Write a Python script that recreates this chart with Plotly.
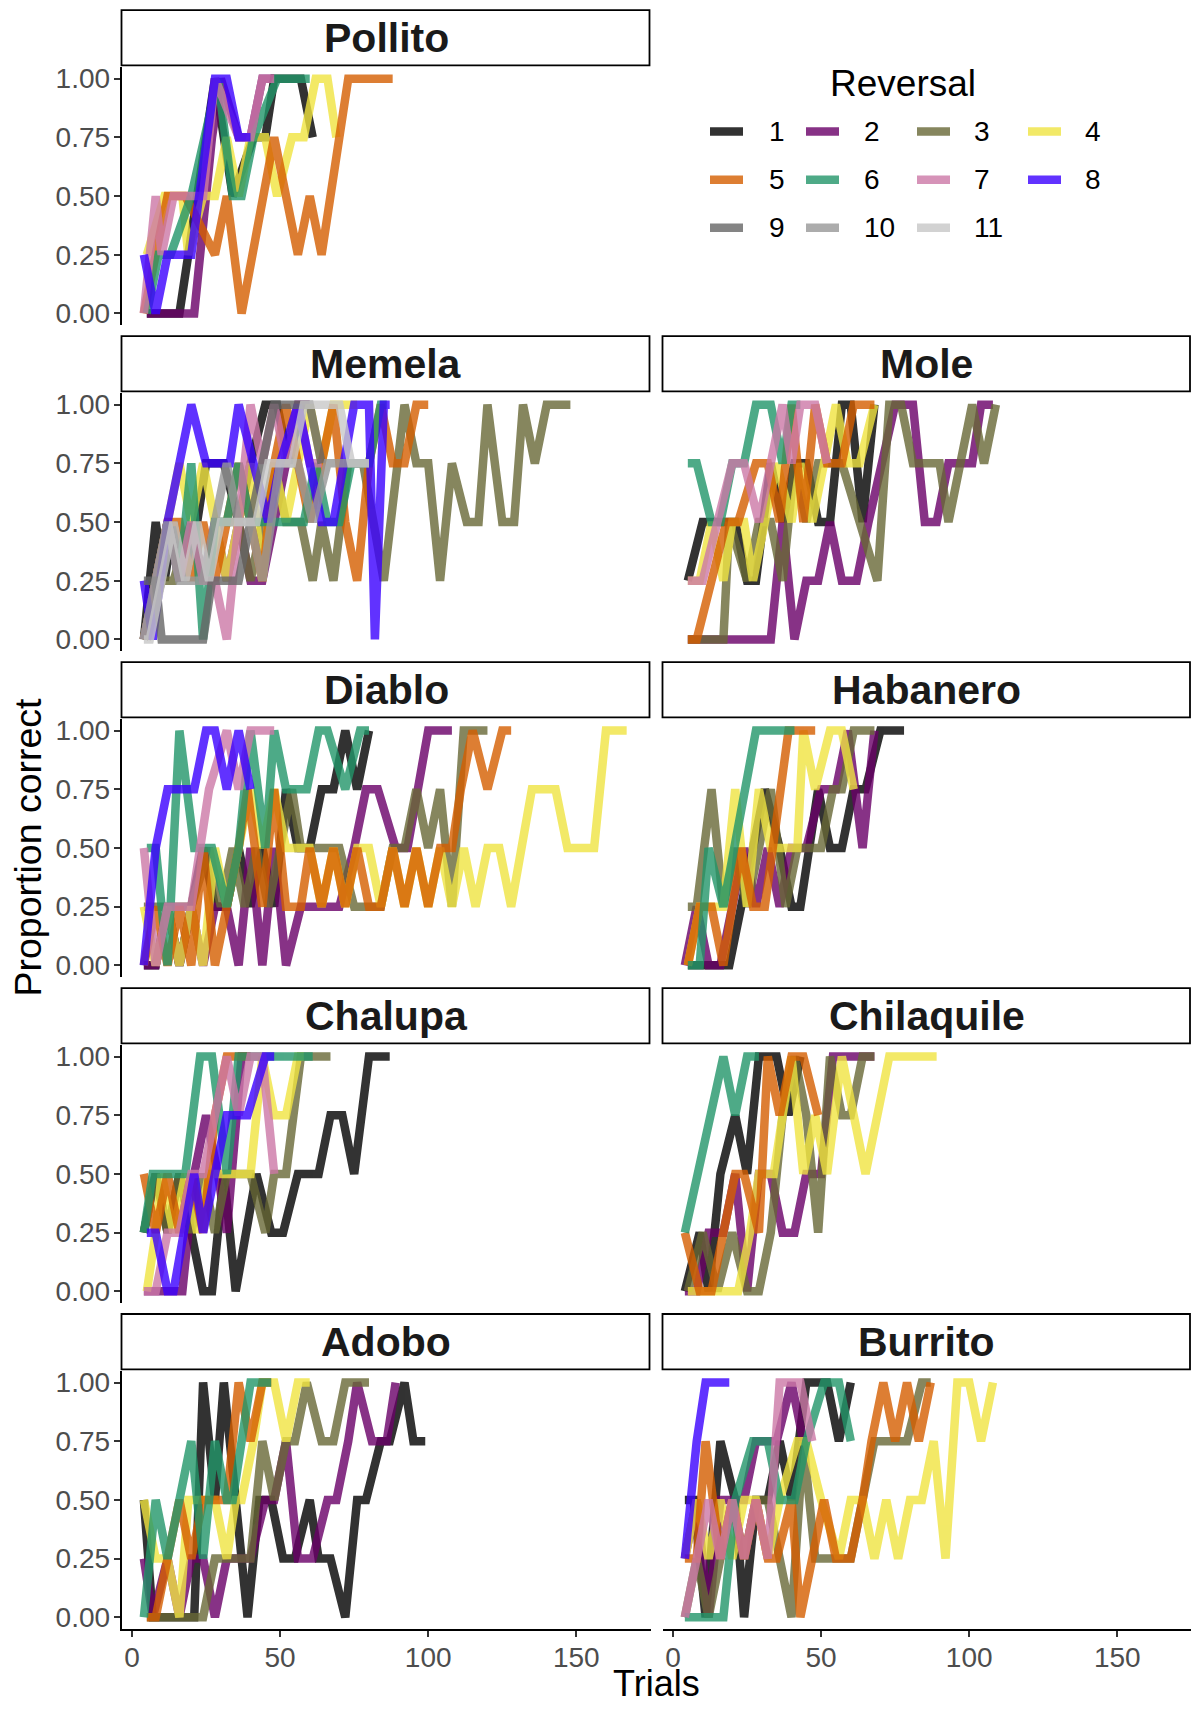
import plotly.graph_objects as go

# ---------------- data: trials (x) and proportion correct (y) per animal / reversal ----------------
pollito_r1_x = [5, 16, 28, 34, 41, 45, 48, 57, 61]
pollito_r1_y = [0, 0, 1, 0.5, 0.75, 0.75, 1, 1, 0.75]
pollito_r2_x = [5, 12, 21, 27, 30, 36, 40, 44, 48]
pollito_r2_y = [0, 0, 0, 0.75, 1, 0.75, 0.75, 1, 1]
pollito_r4_x = [5, 11, 17, 19, 24, 28, 32, 36, 40, 45, 49, 54, 58, 62, 66, 69]
pollito_r4_y = [0.25, 0.5, 0.5, 0.25, 0.5, 0.5, 0.75, 0.5, 0.75, 0.75, 0.5, 0.75, 0.75, 1, 1, 0.75]
pollito_r5_x = [4, 12, 18, 28, 32, 37, 48, 56, 60, 64, 73, 88]
pollito_r5_y = [0, 0.5, 0.5, 0.25, 0.5, 0, 0.75, 0.25, 0.5, 0.25, 1, 1]
pollito_r6_x = [5, 9, 13, 20, 29, 34, 37, 41, 49, 60]
pollito_r6_y = [0, 0.25, 0.25, 0.5, 1, 0.5, 0.5, 0.75, 1, 1]
pollito_r7_x = [4, 8, 10, 14, 24, 28, 36, 40, 44, 48]
pollito_r7_y = [0, 0.5, 0.25, 0.5, 0.5, 1, 0.75, 0.75, 1, 1]
pollito_r8_x = [4, 8, 12, 20, 28, 32, 36, 40]
pollito_r8_y = [0.25, 0, 0.25, 0.25, 1, 1, 0.75, 0.75]

memela_r1_x = [4, 8, 11, 14, 18, 22, 25, 31, 36, 40, 45, 49, 53, 57]
memela_r1_y = [0, 0.5, 0.25, 0.5, 0.25, 0.5, 0.75, 0.75, 0.5, 0.75, 1, 1, 0.75, 1]
memela_r2_x = [4, 8, 12, 16, 20, 24, 28, 32, 36, 40, 44, 48, 52, 56, 60]
memela_r2_y = [0, 0.25, 0.5, 0.25, 0.5, 0.25, 0.5, 0.25, 0.5, 0.25, 0.25, 0.5, 0.75, 1, 1]
memela_r3_x = [5, 10, 14, 20, 24, 30, 36, 40, 44, 48, 52, 57, 61, 64, 68, 73, 78, 85, 92, 96, 100,
               104, 108, 113, 117, 120, 125, 129, 132, 136, 140, 148]
memela_r3_y = [0, 0.25, 0.25, 0.5, 0.25, 0.5, 0.5, 0.25, 0.5, 0.75, 0.5, 0.5, 0.25, 0.5, 0.25, 0.75,
               0.75, 0.25, 1, 0.75, 0.75, 0.25, 0.75, 0.5, 0.5, 1, 0.5, 0.5, 1, 0.75, 1, 1]
memela_r4_x = [4, 8, 12, 16, 20, 24, 28, 32, 36, 40, 44, 48, 52, 56, 60, 64, 68, 72, 76]
memela_r4_y = [0, 0.25, 0.5, 0.75, 0.5, 0.75, 0.5, 0.25, 0.5, 0.75, 0.25, 0.75, 0.5, 0.75, 1, 0.75, 1, 1, 1]
memela_r5_x = [4, 8, 12, 16, 20, 24, 28, 32, 36, 40, 44, 48, 52, 56, 60, 64, 68, 72, 76, 80, 84, 88, 92, 96, 100]
memela_r5_y = [0, 0.25, 0.5, 0.5, 0.25, 0.5, 0.25, 0.5, 0.75, 0.5, 0.25, 0.75, 1, 0.75, 0.5, 0.75, 1, 0.5,
               0.25, 0.75, 1, 0.75, 0.75, 1, 1]
memela_r6_x = [4, 8, 12, 16, 20, 24, 28, 32, 36, 40, 46, 52, 58, 62, 66, 70, 74, 80, 84, 86]
memela_r6_y = [0, 0.25, 0.5, 0.25, 0.75, 0, 0.5, 0.5, 0.75, 0.5, 0.5, 0.5, 0.5, 0.75, 0.5, 0.5, 0.75, 0.75, 1, 1]
memela_r7_x = [4, 8, 12, 16, 20, 24, 28, 32, 36, 40, 44, 48, 52, 56, 60, 64]
memela_r7_y = [0, 0.25, 0.5, 0.25, 0.5, 0.25, 0.25, 0, 0.5, 1, 0.75, 1, 0.75, 1, 0.75, 0.75]
memela_r8_x = [4, 7, 12, 20, 25, 33, 36, 41, 46, 50, 56, 60, 64, 68, 75, 80, 82, 85, 87]
memela_r8_y = [0.25, 0, 0.5, 1, 0.75, 0.75, 1, 0.75, 0.5, 0.75, 1, 0.75, 0.5, 0.5, 1, 1, 0, 1, 1]
memela_r9_x = [4, 8, 10, 13, 24, 27, 36, 40, 44, 48, 55, 60, 64]
memela_r9_y = [0.25, 0.25, 0, 0, 0, 0.25, 0.25, 0.5, 0.75, 1, 1, 1, 0.75]
memela_r10_x = [4, 8, 12, 16, 20, 24, 28, 32, 36, 40, 44, 50, 56, 61, 66, 72, 80]
memela_r10_y = [0, 0.25, 0.5, 0.25, 0.25, 0.25, 0.5, 0.75, 0.5, 0.5, 0.25, 0.75, 0.75, 0.5, 0.75, 0.75, 0.75]
memela_r11_x = [4, 6, 10, 14, 18, 22, 26, 30, 34, 38, 42, 46, 50, 54, 58, 62, 66, 70, 74, 78, 80]
memela_r11_y = [0, 0, 0.25, 0.5, 0.25, 0.5, 0.25, 0.5, 0.5, 0.5, 0.5, 0.75, 0.75, 0.75, 1, 1, 1, 1, 0.75, 0.75, 0.75]

mole_r1_x = [5, 10, 15, 21, 25, 28, 33, 37, 41, 45, 49, 53, 57, 60, 64, 68]
mole_r1_y = [0.25, 0.5, 0.5, 0.5, 0.25, 0.25, 0.75, 0.5, 0.75, 0.75, 0.5, 0.5, 1, 1, 0.5, 1]
mole_r2_x = [5, 18, 33, 37, 41, 45, 49, 53, 57, 62, 66, 75, 81, 85, 89, 93, 101, 104, 108]
mole_r2_y = [0, 0, 0, 0.5, 0, 0.25, 0.25, 0.5, 0.25, 0.25, 0.5, 1, 1, 0.5, 0.5, 0.75, 0.75, 1, 1]
mole_r3_x = [5, 10, 17, 19, 25, 29, 33, 37, 41, 45, 49, 53, 57, 63, 69, 73, 77, 81, 90, 93, 97, 101, 105, 109]
mole_r3_y = [0, 0, 0, 0.5, 0.25, 0.5, 0.5, 0.25, 0.75, 0.5, 0.75, 0.75, 0.75, 0.5, 0.25, 1, 1, 0.75, 0.75,
             0.5, 0.75, 1, 0.75, 1]
mole_r4_x = [5, 9, 13, 17, 20, 24, 27, 31, 35, 40, 43, 47, 51, 55, 59, 63, 68]
mole_r4_y = [0.25, 0.25, 0.5, 0.25, 0.5, 0.5, 0.25, 0.5, 0.75, 0.5, 0.75, 0.5, 0.75, 1, 0.75, 0.75, 1]
mole_r5_x = [5, 8, 13, 18, 22, 28, 32, 36, 40, 44, 48, 52, 57, 61, 68]
mole_r5_y = [0, 0, 0.25, 0.5, 0.5, 0.75, 0.75, 0.5, 1, 0.5, 1, 0.75, 0.75, 1, 1]
mole_r6_x = [5, 8, 13, 16, 20, 24, 28, 33, 37, 40, 43]
mole_r6_y = [0.75, 0.75, 0.5, 0.5, 0.75, 0.75, 1, 1, 0.75, 1, 1]
mole_r7_x = [5, 10, 15, 20, 24, 29, 33, 37, 40, 43, 48, 52]
mole_r7_y = [0.25, 0.25, 0.5, 0.75, 0.75, 0.5, 0.75, 1, 0.75, 1, 1, 0.75]

diablo_r1_x = [4, 8, 12, 16, 20, 24, 28, 32, 36, 40, 44, 48, 52, 56, 60, 64, 68, 72, 76, 80]
diablo_r1_y = [0, 0, 0.25, 0, 0.25, 0.5, 0.25, 0.25, 0.5, 0.25, 0.5, 0.25, 0.75, 0.5, 0.5, 0.75, 0.75, 1, 0.75, 1]
diablo_r2_x = [4, 8, 12, 16, 20, 24, 28, 32, 36, 40, 44, 48, 52, 57, 62, 66, 70, 75, 79, 83, 89, 93, 100, 108]
diablo_r2_y = [0, 0, 0.25, 0, 0.25, 0, 0.25, 0.25, 0, 0.5, 0, 0.5, 0, 0.25, 0.25, 0.25, 0.25, 0.5, 0.75,
               0.75, 0.5, 0.5, 1, 1]
diablo_r3_x = [4, 12, 20, 26, 30, 34, 38, 42, 46, 50, 54, 57, 61, 65, 70, 75, 80, 84, 88, 92, 96, 100,
               104, 108, 112, 120]
diablo_r3_y = [0.25, 0.25, 0.25, 0.5, 0.25, 0.5, 0.25, 0.5, 0.25, 0.5, 0.75, 0.5, 0.5, 0.5, 0.5, 0.25,
               0.25, 0.25, 0.5, 0.5, 0.75, 0.5, 0.75, 0.25, 1, 1]
diablo_r4_x = [4, 8, 12, 16, 20, 24, 28, 32, 36, 40, 44, 48, 52, 56, 60, 64, 68, 72, 76, 80, 84, 88, 92,
               96, 100, 104, 108, 112, 116, 120, 124, 128, 135, 143, 147, 156, 160, 167]
diablo_r4_y = [0.25, 0, 0.25, 0, 0.25, 0, 0.5, 0.25, 0.5, 0.75, 0.5, 0.75, 0.5, 0.5, 0.5, 0.25, 0.5,
               0.25, 0.5, 0.5, 0.25, 0.5, 0.25, 0.5, 0.25, 0.5, 0.25, 0.5, 0.25, 0.5, 0.5, 0.25, 0.75,
               0.75, 0.5, 0.5, 1, 1]
diablo_r5_x = [4, 8, 12, 16, 20, 24, 28, 32, 36, 39, 44, 48, 52, 57, 60, 64, 68, 72, 76, 80, 84, 88, 92,
               96, 100, 104, 108, 111, 115, 120, 125, 128]
diablo_r5_y = [0, 0.25, 0, 0.25, 0, 0.5, 0, 0.25, 0.5, 0.75, 0.25, 0.75, 0.25, 0.25, 0.5, 0.25, 0.5,
               0.25, 0.5, 0.25, 0.25, 0.5, 0.25, 0.5, 0.25, 0.5, 0.5, 0.75, 1, 0.75, 1, 1]
diablo_r6_x = [5, 8, 12, 16, 21, 27, 32, 36, 40, 45, 48, 52, 59, 63, 66, 72, 77, 80]
diablo_r6_y = [0.5, 0.5, 0, 1, 0.5, 0.5, 0.25, 0.5, 1, 0.5, 1, 0.75, 0.75, 1, 1, 0.75, 1, 1]
diablo_r7_x = [4, 8, 12, 20, 26, 32, 36, 40, 48]
diablo_r7_y = [0.5, 0, 0.25, 0.25, 0.75, 1, 0.75, 1, 1]
diablo_r8_x = [4, 8, 12, 21, 25, 28, 32, 36, 40]
diablo_r8_y = [0, 0.5, 0.75, 0.75, 1, 1, 0.75, 1, 0.75]

habanero_r1_x = [5, 10, 19, 23, 27, 31, 36, 40, 43, 49, 53, 57, 61, 65, 70, 78]
habanero_r1_y = [0, 0, 0, 0.25, 0.5, 0.75, 0.5, 0.25, 0.25, 0.75, 0.5, 0.5, 0.75, 0.75, 1, 1]
habanero_r2_x = [4, 8, 12, 16, 20, 24, 28, 32, 36, 40, 45, 50, 55, 59, 64, 68]
habanero_r2_y = [0, 0.25, 0, 0, 0.25, 0.5, 0.25, 0.5, 0.25, 0.5, 0.5, 0.75, 0.75, 1, 0.5, 1]
habanero_r3_x = [5, 8, 13, 17, 21, 25, 29, 33, 38, 42, 50, 54, 57, 61, 68]
habanero_r3_y = [0.25, 0.25, 0.75, 0.25, 0.5, 0.25, 0.5, 0.75, 0.25, 0.5, 0.5, 0.75, 0.75, 1, 1]
habanero_r4_x = [5, 9, 13, 17, 21, 25, 29, 33, 37, 42, 44, 48, 53, 57, 61]
habanero_r4_y = [0, 0.25, 0.25, 0.25, 0.75, 0.25, 0.75, 0.5, 0.5, 0.5, 1, 0.75, 1, 1, 0.75]
habanero_r5_x = [5, 9, 13, 17, 23, 27, 31, 36, 39, 48]
habanero_r5_y = [0, 0.25, 0.25, 0, 0.5, 0.25, 0.25, 0.75, 1, 1]
habanero_r6_x = [5, 9, 12, 17, 28, 41]
habanero_r6_y = [0, 0, 0.5, 0.25, 1, 1]

chalupa_r1_x = [4, 8, 12, 16, 20, 24, 27, 31, 35, 42, 47, 51, 56, 63, 67, 71, 75, 80, 87]
chalupa_r1_y = [0.25, 0.5, 0.25, 0.5, 0.25, 0, 0, 0.5, 0, 0.5, 0.25, 0.25, 0.5, 0.5, 0.75, 0.75, 0.5, 1, 1]
chalupa_r2_x = [4, 8, 13, 17, 21, 25, 29, 32, 37, 40]
chalupa_r2_y = [0, 0, 0, 0, 0.5, 0.75, 0.5, 0.25, 1, 1]
chalupa_r3_x = [4, 8, 12, 16, 20, 24, 28, 32, 36, 40, 45, 48, 52, 57, 67]
chalupa_r3_y = [0.25, 0.5, 0.25, 0.5, 0.25, 0.5, 0.25, 0.5, 0.5, 0.5, 0.25, 0.5, 0.5, 1, 1]
chalupa_r4_x = [5, 8, 10, 14, 18, 22, 26, 30, 35, 40, 44, 48, 52, 56, 58]
chalupa_r4_y = [0, 0.25, 0.5, 0.25, 0.5, 0.25, 0.5, 0.5, 0.5, 0.5, 1, 0.75, 0.75, 1, 1]
chalupa_r5_x = [4, 8, 12, 16, 20, 24, 28, 32, 36, 40]
chalupa_r5_y = [0.5, 0.25, 0.5, 0.25, 0.5, 0.25, 0.75, 1, 1, 1]
chalupa_r6_x = [4, 7, 18, 23, 27, 32, 36, 40, 48, 61]
chalupa_r6_y = [0.25, 0.5, 0.5, 1, 1, 0.5, 1, 1, 1, 1]
chalupa_r7_x = [4, 8, 12, 16, 20, 24, 28, 32, 36, 40, 44, 48]
chalupa_r7_y = [0, 0, 0.25, 0.25, 0.5, 0.5, 0.75, 1, 0.75, 1, 1, 0.5]
chalupa_r8_x = [5, 8, 12, 14, 21, 24, 32, 39, 45, 48]
chalupa_r8_y = [0.25, 0.25, 0, 0, 0.5, 0.25, 0.75, 0.75, 1, 1]

chilaquile_r1_x = [4, 9, 12, 16, 21, 25, 29, 35, 39, 43]
chilaquile_r1_y = [0, 0.25, 0, 0.5, 0.75, 0.5, 1, 1, 0.75, 1]
chilaquile_r2_x = [4, 8, 12, 17, 21, 25, 29, 33, 37, 41, 45, 50, 54, 62, 68]
chilaquile_r2_y = [0, 0, 0.25, 0.25, 0.5, 0, 0.5, 0.5, 0.25, 0.25, 0.5, 0.5, 1, 1, 1]
chilaquile_r3_x = [5, 10, 15, 20, 25, 29, 33, 37, 41, 45, 49, 53, 57, 60, 64, 68]
chilaquile_r3_y = [0, 0.25, 0, 0.25, 0, 0, 0.25, 0.75, 1, 0.75, 0.25, 1, 0.75, 0.75, 1, 1]
chilaquile_r4_x = [5, 22, 26, 29, 34, 37, 40, 44, 48, 52, 57, 61, 65, 69, 73, 89]
chilaquile_r4_y = [0, 0, 0.25, 0.5, 0.5, 0.75, 1, 0.5, 0.75, 0.5, 1, 0.75, 0.5, 0.75, 1, 1]
chilaquile_r5_x = [4, 9, 13, 17, 21, 24, 29, 32, 36, 40, 44, 49]
chilaquile_r5_y = [0.25, 0, 0, 0.25, 0.5, 0.5, 0.25, 1, 0.75, 1, 1, 0.75]
chilaquile_r6_x = [4, 17, 21, 25, 29]
chilaquile_r6_y = [0.25, 1, 0.75, 1, 1]

adobo_r1_x = [4, 7, 12, 16, 21, 24, 28, 31, 35, 39, 43, 47, 51, 55, 60, 63, 67, 72, 76, 79, 84, 87, 92, 95, 99]
adobo_r1_y = [0.5, 0, 0, 0, 0, 1, 0.5, 1, 0.5, 0, 0.5, 0.5, 0.25, 0.25, 0.5, 0.25, 0.25, 0, 0.5, 0.5,
              0.75, 0.75, 1, 0.75, 0.75]
adobo_r2_x = [4, 7, 12, 16, 20, 24, 28, 32, 40, 45, 48, 52, 56, 61, 66, 69, 73, 76, 81, 86, 89]
adobo_r2_y = [0.25, 0, 0.25, 0, 0.25, 0.25, 0, 0.25, 0.25, 0.5, 0.5, 0.75, 0.25, 0.25, 0.5, 0.5, 0.75,
              1, 0.75, 0.75, 1]
adobo_r3_x = [5, 10, 15, 20, 24, 28, 34, 40, 44, 48, 52, 55, 59, 64, 68, 72, 76, 80]
adobo_r3_y = [0, 0, 0, 0, 0, 0.25, 0.25, 0.25, 0.75, 0.5, 0.75, 0.75, 1, 0.75, 0.75, 1, 1, 1]
adobo_r4_x = [4, 8, 12, 16, 19, 24, 28, 32, 35, 37, 41, 44, 48, 52, 56, 60]
adobo_r4_y = [0.5, 0.25, 0.25, 0, 0.5, 0.5, 0.5, 0.25, 0.5, 0.5, 0.75, 1, 1, 0.75, 1, 1]
adobo_r5_x = [5, 8, 12, 16, 20, 24, 28, 32, 36, 40, 44, 47]
adobo_r5_y = [0, 0, 0.25, 0.5, 0.25, 0.5, 0.5, 0.5, 1, 0.75, 1, 1]
adobo_r6_x = [4, 8, 12, 20, 24, 28, 32, 34, 40, 47]
adobo_r6_y = [0, 0.5, 0.25, 0.75, 0.25, 0.75, 0.5, 0.5, 1, 1]

burrito_r1_x = [4, 7, 11, 16, 21, 24, 28, 32, 36, 40, 45, 49, 52, 56, 60]
burrito_r1_y = [0.5, 0.5, 0, 0.75, 0.5, 0, 0.5, 0.5, 0.75, 0.5, 1, 1, 1, 0.75, 1]
burrito_r2_x = [4, 8, 12, 16, 20, 24, 28, 31, 35, 40, 44]
burrito_r2_y = [0.25, 0.5, 0, 0.5, 0.5, 0.5, 0.75, 0.75, 0.75, 1, 0.75]
burrito_r3_x = [4, 8, 12, 16, 20, 24, 28, 32, 36, 40, 44, 48, 52, 56, 60, 64, 68, 72, 76, 79, 84, 87]
burrito_r3_y = [0, 0.25, 0, 0.25, 0.5, 0.25, 0.5, 0.5, 0.25, 0, 0.75, 0.25, 0.25, 0.25, 0.25, 0.5,
                0.75, 0.75, 0.75, 0.75, 1, 1]
burrito_r4_x = [4, 8, 12, 16, 20, 24, 28, 32, 36, 42, 45, 50, 56, 60, 64, 68, 72, 76, 80, 84, 88, 92,
                96, 100, 104, 108]
burrito_r4_y = [0.25, 0.5, 0.25, 0.5, 0.25, 0.5, 0.5, 0.25, 0.5, 0.75, 0.75, 0.5, 0.25, 0.5, 0.5, 0.25,
                0.5, 0.25, 0.5, 0.5, 0.75, 0.25, 1, 1, 0.75, 1]
burrito_r5_x = [4, 8, 11, 16, 20, 24, 28, 32, 35, 40, 43, 47, 51, 55, 60, 64, 67, 71, 75, 79, 83, 87]
burrito_r5_y = [0.25, 0.25, 0.75, 0.25, 0.5, 0.25, 0.5, 0.25, 0.25, 0.5, 0, 0.25, 0.5, 0.25, 0.25, 0.5,
                0.75, 1, 0.75, 1, 0.75, 1]
burrito_r6_x = [4, 10, 17, 21, 27, 32, 36, 41, 45, 51, 56, 60]
burrito_r6_y = [0, 0, 0, 0.5, 0.75, 0.75, 0.5, 0.5, 0.75, 1, 1, 0.75]
burrito_r7_x = [4, 8, 12, 16, 20, 24, 28, 32, 36, 40, 43, 47]
burrito_r7_y = [0, 0.25, 0.5, 0.25, 0.5, 0.25, 0.5, 0.25, 1, 1, 1, 0.75]
burrito_r8_x = [4, 8, 11, 19]
burrito_r8_y = [0.25, 0.75, 1, 1]

# ---------------- categories, palette, ticks ----------------
PANELS = ["Pollito", "Memela", "Mole", "Diablo", "Habanero", "Chalupa", "Chilaquile", "Adobo", "Burrito"]
REVERSALS = [1, 2, 3, 4, 5, 6, 7, 8, 9, 10, 11]
REV_COLORS = ["#000000", "#6A0068", "#686836", "#F0E442", "#D55E00", "#22966A",
              "#CC79A7", "#3A00FF", "#666666", "#989898", "#C8C8C8"]
X_TICKS = [0, 50, 100, 150]
Y_TICKS = [0, 0.25, 0.5, 0.75, 1]
Y_TICK_LABELS = ["0.00", "0.25", "0.50", "0.75", "1.00"]

SERIES = [
    ("Pollito", 1, pollito_r1_x, pollito_r1_y), ("Pollito", 2, pollito_r2_x, pollito_r2_y),
    ("Pollito", 4, pollito_r4_x, pollito_r4_y), ("Pollito", 5, pollito_r5_x, pollito_r5_y),
    ("Pollito", 6, pollito_r6_x, pollito_r6_y), ("Pollito", 7, pollito_r7_x, pollito_r7_y),
    ("Pollito", 8, pollito_r8_x, pollito_r8_y),
    ("Memela", 1, memela_r1_x, memela_r1_y), ("Memela", 2, memela_r2_x, memela_r2_y),
    ("Memela", 3, memela_r3_x, memela_r3_y), ("Memela", 4, memela_r4_x, memela_r4_y),
    ("Memela", 5, memela_r5_x, memela_r5_y), ("Memela", 6, memela_r6_x, memela_r6_y),
    ("Memela", 7, memela_r7_x, memela_r7_y), ("Memela", 8, memela_r8_x, memela_r8_y),
    ("Memela", 9, memela_r9_x, memela_r9_y), ("Memela", 10, memela_r10_x, memela_r10_y),
    ("Memela", 11, memela_r11_x, memela_r11_y),
    ("Mole", 1, mole_r1_x, mole_r1_y), ("Mole", 2, mole_r2_x, mole_r2_y),
    ("Mole", 3, mole_r3_x, mole_r3_y), ("Mole", 4, mole_r4_x, mole_r4_y),
    ("Mole", 5, mole_r5_x, mole_r5_y), ("Mole", 6, mole_r6_x, mole_r6_y),
    ("Mole", 7, mole_r7_x, mole_r7_y),
    ("Diablo", 1, diablo_r1_x, diablo_r1_y), ("Diablo", 2, diablo_r2_x, diablo_r2_y),
    ("Diablo", 3, diablo_r3_x, diablo_r3_y), ("Diablo", 4, diablo_r4_x, diablo_r4_y),
    ("Diablo", 5, diablo_r5_x, diablo_r5_y), ("Diablo", 6, diablo_r6_x, diablo_r6_y),
    ("Diablo", 7, diablo_r7_x, diablo_r7_y), ("Diablo", 8, diablo_r8_x, diablo_r8_y),
    ("Habanero", 1, habanero_r1_x, habanero_r1_y), ("Habanero", 2, habanero_r2_x, habanero_r2_y),
    ("Habanero", 3, habanero_r3_x, habanero_r3_y), ("Habanero", 4, habanero_r4_x, habanero_r4_y),
    ("Habanero", 5, habanero_r5_x, habanero_r5_y), ("Habanero", 6, habanero_r6_x, habanero_r6_y),
    ("Chalupa", 1, chalupa_r1_x, chalupa_r1_y), ("Chalupa", 2, chalupa_r2_x, chalupa_r2_y),
    ("Chalupa", 3, chalupa_r3_x, chalupa_r3_y), ("Chalupa", 4, chalupa_r4_x, chalupa_r4_y),
    ("Chalupa", 5, chalupa_r5_x, chalupa_r5_y), ("Chalupa", 6, chalupa_r6_x, chalupa_r6_y),
    ("Chalupa", 7, chalupa_r7_x, chalupa_r7_y), ("Chalupa", 8, chalupa_r8_x, chalupa_r8_y),
    ("Chilaquile", 1, chilaquile_r1_x, chilaquile_r1_y), ("Chilaquile", 2, chilaquile_r2_x, chilaquile_r2_y),
    ("Chilaquile", 3, chilaquile_r3_x, chilaquile_r3_y), ("Chilaquile", 4, chilaquile_r4_x, chilaquile_r4_y),
    ("Chilaquile", 5, chilaquile_r5_x, chilaquile_r5_y), ("Chilaquile", 6, chilaquile_r6_x, chilaquile_r6_y),
    ("Adobo", 1, adobo_r1_x, adobo_r1_y), ("Adobo", 2, adobo_r2_x, adobo_r2_y),
    ("Adobo", 3, adobo_r3_x, adobo_r3_y), ("Adobo", 4, adobo_r4_x, adobo_r4_y),
    ("Adobo", 5, adobo_r5_x, adobo_r5_y), ("Adobo", 6, adobo_r6_x, adobo_r6_y),
    ("Burrito", 1, burrito_r1_x, burrito_r1_y), ("Burrito", 2, burrito_r2_x, burrito_r2_y),
    ("Burrito", 3, burrito_r3_x, burrito_r3_y), ("Burrito", 4, burrito_r4_x, burrito_r4_y),
    ("Burrito", 5, burrito_r5_x, burrito_r5_y), ("Burrito", 6, burrito_r6_x, burrito_r6_y),
    ("Burrito", 7, burrito_r7_x, burrito_r7_y), ("Burrito", 8, burrito_r8_x, burrito_r8_y),
]

# ---------------- layout geometry (page pixels) ----------------
W, H = 1193, 1709
FONT = "Liberation Sans, Arial, Helvetica, sans-serif"
PANEL_GRID = {"Pollito": (0, 0), "Memela": (1, 0), "Mole": (1, 1), "Diablo": (2, 0), "Habanero": (2, 1),
              "Chalupa": (3, 0), "Chilaquile": (3, 1), "Adobo": (4, 0), "Burrito": (4, 1)}
COL_X = [(121.5, 650.5), (662.5, 1191.0)]
ROW0_TOP, ROW_PITCH, PANEL_H = 64.2, 327.3, 259.3
X_MIN, PX_PER_TRIAL = -3.55, 2.962
Y_RANGE = [-0.05, 1.05]
LINE_W = 8.5
ALPHA = 0.8
TICK_FONT = dict(family=FONT, size=28, color="#4D4D4D")


def px_x(p):
    return min(1.0, max(0.0, p / W))


def px_y(p):
    return min(1.0, max(0.0, 1 - p / H))


fig = go.Figure()
shapes, annotations = [], []
layout_axes = {}

for k, name in enumerate(PANELS):
    row, col = PANEL_GRID[name]
    top = ROW0_TOP + row * ROW_PITCH
    x0, x1 = COL_X[col]
    ax = "" if k == 0 else str(k + 1)
    bottom_row = (row == 4)
    left_col = (col == 0)
    layout_axes["xaxis" + ax] = dict(
        domain=[px_x(x0), px_x(x1)], range=[X_MIN, X_MIN + (x1 - x0) / PX_PER_TRIAL], anchor="y" + ax,
        showgrid=False, zeroline=False, tickvals=X_TICKS,
        showticklabels=bottom_row, ticks="outside" if bottom_row else "",
        showline=bottom_row, linecolor="black", linewidth=1.6,
        ticklen=6, tickwidth=1.5, tickcolor="#333333", tickfont=TICK_FONT,
        ticklabelstandoff=-3,
    )
    layout_axes["yaxis" + ax] = dict(
        domain=[px_y(top + PANEL_H), px_y(top)], range=Y_RANGE, anchor="x" + ax,
        showgrid=False, zeroline=False, tickvals=Y_TICKS, ticktext=Y_TICK_LABELS,
        showticklabels=left_col, ticks="outside" if left_col else "",
        showline=left_col, linecolor="black", linewidth=1.6,
        ticklen=6, tickwidth=1.5, tickcolor="#333333", tickfont=TICK_FONT,
        ticklabelstandoff=-2,
    )
    # facet strip
    shapes.append(dict(type="rect", xref="paper", yref="paper",
                       x0=px_x(x0), x1=px_x(x1 - 1), y0=px_y(top - 1.5), y1=px_y(top - 57),
                       line=dict(color="black", width=1.8), fillcolor="white", layer="above"))
    annotations.append(dict(text="<b>%s</b>" % name, xref="paper", yref="paper",
                            x=px_x((x0 + x1) / 2), y=px_y(top - 29), showarrow=False,
                            xanchor="center", yanchor="middle",
                            font=dict(family=FONT, size=41, color="#1A1A1A")))

for name, rev, xs, ys in sorted(SERIES, key=lambda s: (PANELS.index(s[0]), s[1])):
    k = PANELS.index(name)
    ax = "" if k == 0 else str(k + 1)
    fig.add_trace(go.Scatter(
        x=xs, y=ys, mode="lines", name=str(rev),
        line=dict(color=REV_COLORS[rev - 1], width=LINE_W),
        opacity=ALPHA, showlegend=False, hoverinfo="skip",
        xaxis="x" + ax, yaxis="y" + ax, cliponaxis=False,
    ))

# ---------------- legend (grid of keys, 4 per row) ----------------
LEG_KEY_X = [710, 806, 917, 1028]
LEG_LABEL_X = [767, 862, 972, 1083]
LEG_ROW_Y = [129, 177.5, 225.7]
LEG_KEY_LEN = 33
annotations.append(dict(text="Reversal", xref="paper", yref="paper", x=px_x(903), y=px_y(81),
                        showarrow=False, xanchor="center", yanchor="middle",
                        font=dict(family=FONT, size=37, color="black")))
for i, rev in enumerate(REVERSALS):
    r, c = divmod(i, 4)
    yk = px_y(LEG_ROW_Y[r])
    shapes.append(dict(type="line", xref="paper", yref="paper",
                       x0=px_x(LEG_KEY_X[c]), x1=px_x(LEG_KEY_X[c] + LEG_KEY_LEN), y0=yk, y1=yk,
                       line=dict(color=REV_COLORS[i], width=8.5), opacity=ALPHA))
    annotations.append(dict(text=str(rev), xref="paper", yref="paper", x=px_x(LEG_LABEL_X[c]), y=yk,
                            showarrow=False, xanchor="left", yanchor="middle",
                            font=dict(family=FONT, size=28, color="black")))

# ---------------- axis titles ----------------
annotations.append(dict(text="Trials", xref="paper", yref="paper", x=px_x(656), y=0,
                        showarrow=False, xanchor="center", yanchor="bottom", borderpad=0,
                        font=dict(family=FONT, size=36, color="black")))
annotations.append(dict(text="Proportion correct", xref="paper", yref="paper", x=px_x(28), y=px_y(848),
                        showarrow=False, xanchor="center", yanchor="middle", textangle=-90,
                        font=dict(family=FONT, size=37.5, color="black")))

fig.update_layout(
    width=W, height=H, margin=dict(l=0, r=0, t=0, b=0),
    paper_bgcolor="white", plot_bgcolor="white",
    showlegend=False, shapes=shapes, annotations=annotations,
    font=dict(family=FONT),
    **layout_axes,
)

# remove the default 8px page margin so the figure fills the 1193x1709 window exactly
fig.write_html("out.html", config={"displayModeBar": False},
               post_script="document.body.style.margin='0px';")
